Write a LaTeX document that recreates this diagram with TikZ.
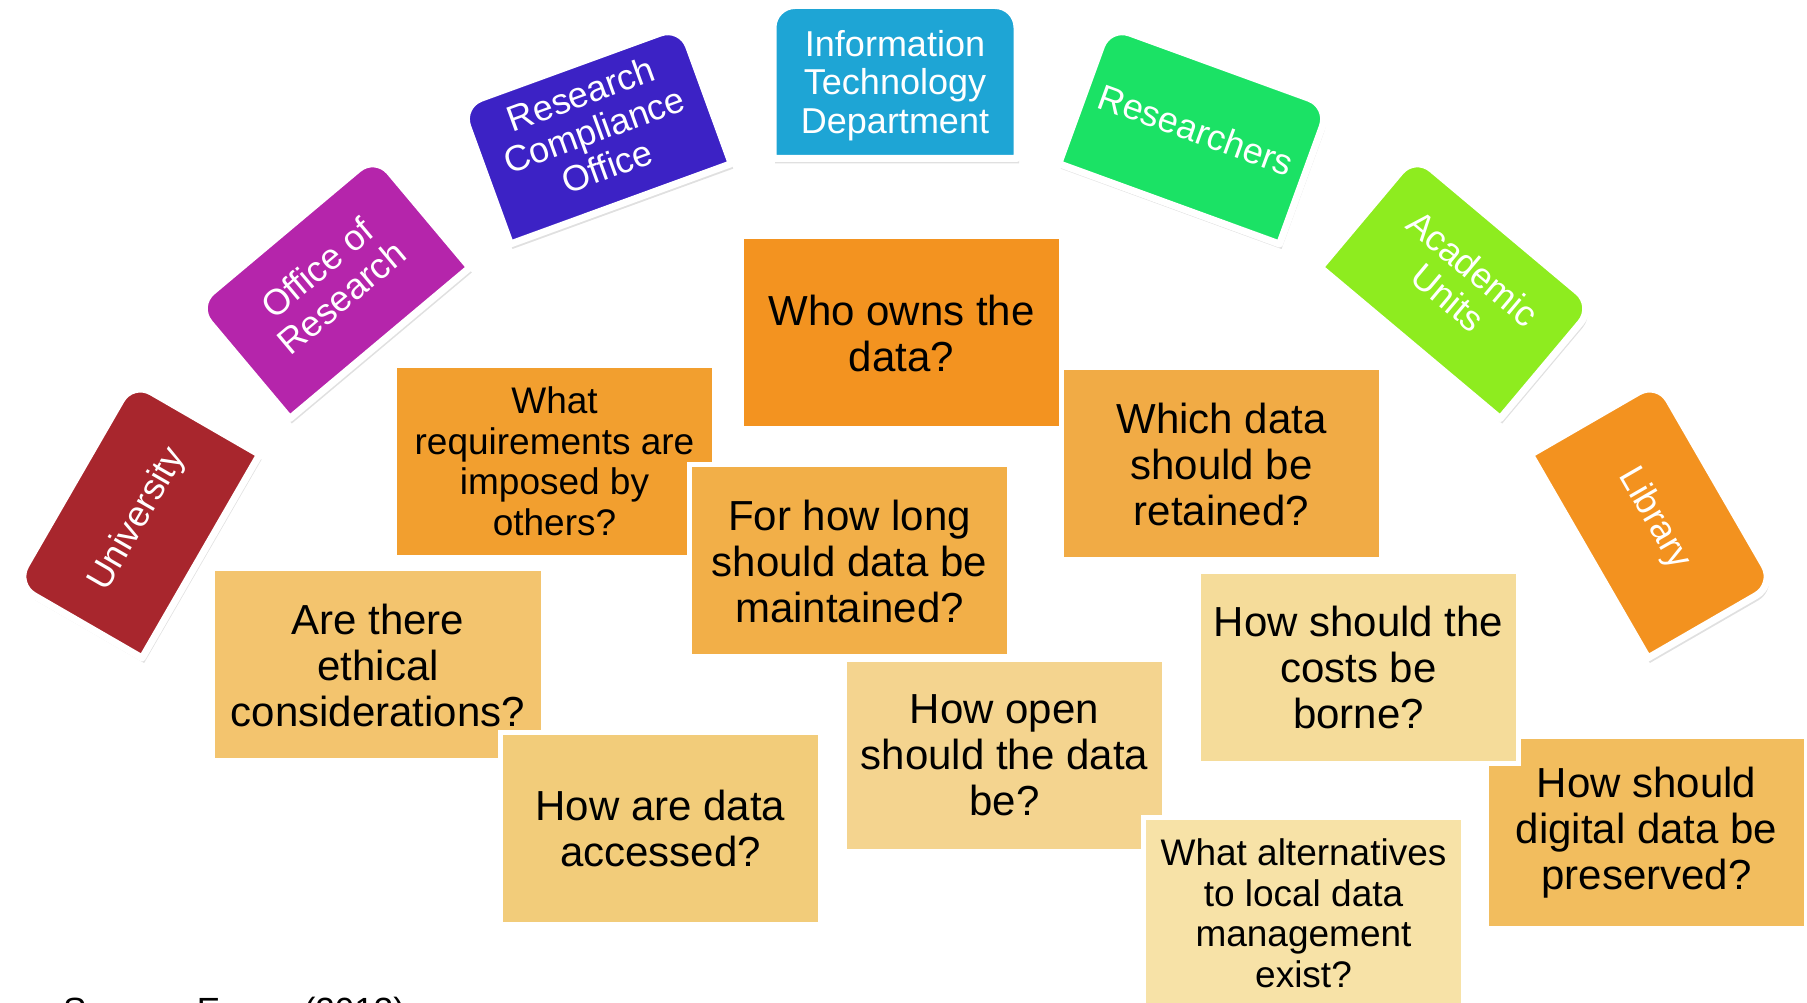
\documentclass[tikz,border=0pt]{standalone}
\usepackage{fontspec}
\setmainfont{Liberation Sans}
\usepackage{xcolor}
\usepackage{tikz}
\usetikzlibrary{calc, backgrounds, shadows}

\definecolor{univred}{HTML}{A8262D}
\definecolor{officemag}{HTML}{B525AB}
\definecolor{compblue}{HTML}{3C22C5}
\definecolor{itcyan}{HTML}{1EA5D5}
\definecolor{resgreen}{HTML}{1BE265}
\definecolor{acadlime}{HTML}{8EEC1F}
\definecolor{liborange}{HTML}{F3921F}
\definecolor{qown}{HTML}{F39320}
\definecolor{qreq}{HTML}{F29F2F}
\definecolor{qlong}{HTML}{F2AF48}
\definecolor{qretain}{HTML}{F1AB45}
\definecolor{qethic}{HTML}{F3C46E}
\definecolor{qaccess}{HTML}{F2CC7A}
\definecolor{qopen}{HTML}{F4D48F}
\definecolor{qcost}{HTML}{F5DC9A}
\definecolor{qalt}{HTML}{F7E2A7}
\definecolor{qpreserve}{HTML}{F2BD5E}

\begin{document}
\begin{tikzpicture}[x=1pt, y=1pt,
  tab/.style={inner sep=0pt, outer sep=0pt, text=white, align=center,
    font=\fontsize{36}{38.5}\selectfont},
  tabshape/.style={draw=white, line width=7pt, line join=round,
    drop shadow={shadow xshift=2pt, shadow yshift=-5pt, opacity=.12, fill=black}},
  qbox/.style={draw=white, line width=5pt, minimum width=320pt, minimum height=192pt,
    inner sep=0pt, outer sep=0pt, align=center, font=\fontsize{42}{46}\selectfont},
  qsmall/.style={qbox, font=\fontsize{37}{40.5}\selectfont}]
  \useasboundingbox (0,0) rectangle (1807,1002);
  \coordinate (hub) at (895,45);

  % the arc of offices
  \foreach \nm/\ang/\col/\w/\h/\dy/\txt in {
      univ/150/univred/235/147/2/{University},
      office/130/officemag/235/147/0/{Office of\\Research},
      compliance/110/compblue/235/147/0/{Research\\Compliance\\Office},
      infotech/90/itcyan/244/153/5/{Information\\Technology\\Department},
      researchers/70/resgreen/235/147/0/{Researchers},
      academic/50/acadlime/235/147/0/{Academic\\Units},
      library/30/liborange/235/147/0/{Library}}{
    \node[tab, minimum width=\w pt, minimum height=\h pt, rotate=\ang-90] (\nm)
      at ($(hub)+(\ang:875)$)
      {\raisebox{-\dy pt}[\height][\depth]{\begin{tabular}{@{}c@{}}\txt\end{tabular}}};
    \begin{scope}[on background layer]
      \path[tabshape, fill=\col]
        (\nm.south west) -- ($(\nm.north west)!22pt!(\nm.south west)$)
        arc[start angle=\ang+90, end angle=\ang, radius=22pt]
        -- ($(\nm.north east)!22pt!(\nm.north west)$)
        arc[start angle=\ang, end angle=\ang-90, radius=22pt]
        -- (\nm.south east) -- cycle;
    \end{scope}
  }

  % the questions
  \node[qbox, fill=qown] (owns) at (901.5,669) {Who owns the\\data?};
  \node[qsmall, fill=qreq] (requirements) at (554.5,540.5) {What\\requirements are\\imposed by\\others?};
  \node[qbox, fill=qlong] (howlong) at (849.5,441) {For how long\\should data be\\maintained?};
  \node[qbox, fill=qretain] (retained) at (1221.5,538) {Which data\\should be\\retained?};
  \node[qbox, fill=qethic, minimum width=331pt] (ethical) at (378,337) {Are there\\ethical\\considerations?};
  \node[qbox, fill=qaccess] (accessed) at (660.5,173.5) {How are data\\accessed?};
  \node[qbox, fill=qopen] (howopen) at (1004.5,246.5) {How open\\should the data\\be?};
  \node[qsmall, fill=qalt] (alternatives) at (1303.5,88.5) {What alternatives\\to local data\\management\\exist?};
  \node[qbox, fill=qpreserve] (preserved) at (1646.5,169.5) {How should\\digital data be\\preserved?};
  \node[qbox, fill=qcost] (costs) at (1358.5,334.5) {How should the\\costs be\\borne?};

  \node[anchor=north west, inner sep=0pt, font=\fontsize{35}{40}\selectfont] (source)
    at (63,5) {Source: Evans (2013)};
\end{tikzpicture}
\end{document}
